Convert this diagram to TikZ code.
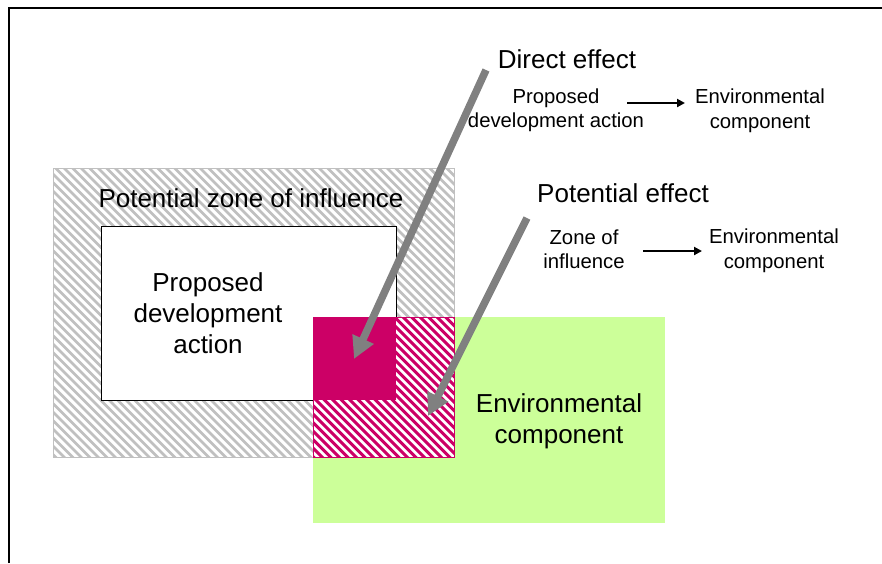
\documentclass[tikz,border=0pt]{standalone}
\usepackage{fontspec}
\setmainfont{Liberation Sans}
\usetikzlibrary{arrows.meta}
\definecolor{mag}{HTML}{CC0066}
\definecolor{grn}{HTML}{CCFF99}
\definecolor{hatchgray}{HTML}{C0C0C0}
\definecolor{arrgray}{HTML}{808080}
\begin{document}
\begin{tikzpicture}[x=1pt,y=-1pt,
  big/.style={font=\fontsize{26}{31}\selectfont, align=center, inner sep=0pt},
  small/.style={font=\fontsize{20.3}{24.5}\selectfont, align=center, inner sep=0pt},
  bigarrow/.style={draw=arrgray, line width=7.5pt, -{Triangle[length=22pt,width=22pt]}},
  smallarrow/.style={draw=black, line width=2pt, -{Triangle[length=8pt,width=8pt]}},
  graystripe/.style={hatchgray, line width=2.8pt},
  magstripe/.style={mag, line width=3pt},
]
\useasboundingbox (0,0) rectangle (882,563);
% frame
\draw[line width=2.5pt] (9,563) -- (9,8) -- (882,8);
% potential zone of influence (gray hatched)
\begin{scope}
  \clip (53,168) rectangle (454,457);
  \fill[white] (53,168) rectangle (454,457);
  \foreach \c in {-410,-401.5,...,290} \draw[graystripe] (\c+158,158) -- (\c+467,467);
\end{scope}
\draw[hatchgray, line width=1pt] (53,168) rectangle (454,457);
% proposed development action box
\node[draw, fill=white, line width=1pt, minimum width=295pt, minimum height=174pt, anchor=north west, inner sep=0pt] (actbox) at (101,226) {};
% environmental component (green)
\fill[grn] (313,317) rectangle (665,523);
% overlap: potential effect (magenta hatched)
\begin{scope}
  \clip (313,317) rectangle (454,457);
  \fill[white] (313,317) rectangle (454,457);
  \foreach \c in {-152,-143.5,...,144} \draw[magstripe] (\c+307,307) -- (\c+467,467);
\end{scope}
\draw[mag, line width=1pt] (313,317) rectangle (454,457);
% direct effect (solid magenta)
\fill[mag] (313,317) rectangle (396,400);
% labels
\node[big] (zonelbl) at (251,198) {Potential zone of influence};
\node[big] (actlbl) at (208,313) {Proposed\\development\\action};
\node[big] (envlbl) at (559,421) {Environmental\\component};
\node[big] (directlbl) at (567,59) {Direct effect};
\node[small] (pdalbl) at (556,110) {Proposed\\development action};
\node[small] (env1lbl) at (760,110.5) {Environmental\\component};
\node[big] (potlbl) at (623,193) {Potential effect};
\node[small] (zoilbl) at (584,249) {Zone of\\influence};
\node[small] (env2lbl) at (774,250.5) {Environmental\\component};
% small arrows
\coordinate (d1) at (627,103); \coordinate (d2) at (685,103);
\draw[smallarrow] (d1) -- (d2);
\coordinate (p1) at (643,251); \coordinate (p2) at (702,251);
\draw[smallarrow] (p1) -- (p2);
% big gray arrows
\coordinate (ba1s) at (486,70); \coordinate (ba1e) at (354,359);
\draw[bigarrow] (ba1s) -- (ba1e);
\coordinate (ba2s) at (527,218); \coordinate (ba2e) at (428,416);
\draw[bigarrow] (ba2s) -- (ba2e);
\end{tikzpicture}
\end{document}
